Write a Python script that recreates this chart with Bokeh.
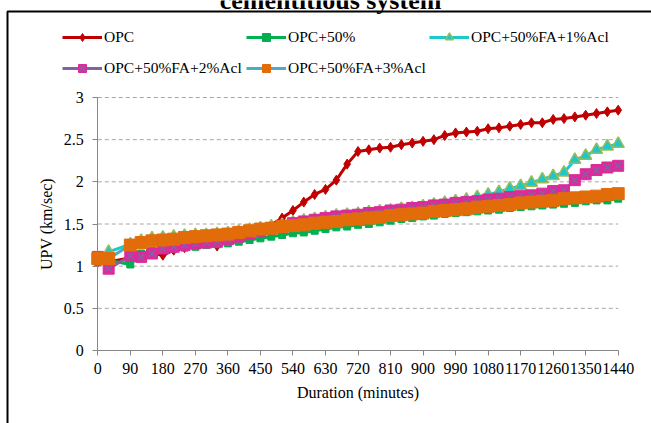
from bokeh.plotting import figure
from bokeh.models import Range1d, FixedTicker, Legend, LegendItem, BoxAnnotation, Label, LinearAxis
from bokeh.embed import file_html
from bokeh.resources import INLINE

# ---------------- data ----------------
minutes = [0, 30] + list(range(90, 1441, 30))

opc = [1.05, 1.05, 1.10, 1.12, 1.15, 1.13, 1.19, 1.22, 1.25, 1.27, 1.24, 1.32,
       1.36, 1.39, 1.43, 1.49, 1.57, 1.66, 1.76, 1.85, 1.91, 2.02, 2.21, 2.36,
       2.38, 2.40, 2.41, 2.44, 2.46, 2.48, 2.50, 2.55, 2.58, 2.59, 2.60, 2.63,
       2.64, 2.66, 2.68, 2.70, 2.70, 2.74, 2.75, 2.77, 2.79, 2.81, 2.83, 2.85]

opc50 = [1.05, 1.07, 1.02, 1.15, 1.18, 1.20, 1.21, 1.22, 1.23, 1.25, 1.26, 1.27,
         1.29, 1.31, 1.33, 1.35, 1.37, 1.39, 1.40, 1.42, 1.44, 1.46, 1.47, 1.49,
         1.50, 1.52, 1.54, 1.56, 1.57, 1.59, 1.60, 1.62, 1.63, 1.64, 1.65, 1.66,
         1.67, 1.69, 1.70, 1.71, 1.72, 1.73, 1.74, 1.75, 1.77, 1.78, 1.78, 1.80]

fa1 = [1.08, 1.17, 1.26, 1.30, 1.33, 1.34, 1.35, 1.36, 1.37, 1.37, 1.38, 1.39,
       1.41, 1.43, 1.45, 1.47, 1.49, 1.52, 1.54, 1.56, 1.58, 1.60, 1.61, 1.62,
       1.64, 1.65, 1.66, 1.68, 1.69, 1.71, 1.73, 1.75, 1.77, 1.79, 1.82, 1.85,
       1.88, 1.92, 1.95, 1.99, 2.03, 2.07, 2.11, 2.26, 2.31, 2.38, 2.42, 2.45]

fa2 = [1.11, 0.97, 1.12, 1.11, 1.15, 1.21, 1.23, 1.25, 1.27, 1.28, 1.29, 1.32,
       1.35, 1.38, 1.42, 1.45, 1.48, 1.51, 1.53, 1.55, 1.57, 1.59, 1.60, 1.61,
       1.63, 1.64, 1.66, 1.67, 1.69, 1.70, 1.72, 1.73, 1.75, 1.76, 1.77, 1.79,
       1.80, 1.82, 1.83, 1.84, 1.86, 1.89, 1.90, 2.02, 2.09, 2.14, 2.17, 2.19]

fa3 = [1.09, 1.09, 1.25, 1.28, 1.30, 1.31, 1.32, 1.34, 1.35, 1.36, 1.37, 1.38,
       1.40, 1.42, 1.44, 1.45, 1.47, 1.48, 1.49, 1.51, 1.52, 1.53, 1.55, 1.56,
       1.57, 1.58, 1.60, 1.61, 1.62, 1.63, 1.65, 1.66, 1.67, 1.68, 1.70, 1.71,
       1.72, 1.73, 1.75, 1.76, 1.77, 1.78, 1.80, 1.81, 1.82, 1.83, 1.85, 1.86]

series_labels = ["OPC", "OPC+50%", "OPC+50%FA+1%Acl", "OPC+50%FA+2%Acl", "OPC+50%FA+3%Acl"]
x_ticks = list(range(0, 1441, 90))
y_ticks = [0, 0.5, 1, 1.5, 2, 2.5, 3]
y_tick_labels = ["0", "0.5", "1", "1.5", "2", "2.5", "3"]
title_text = "cementitious system"
x_title = "Duration (minutes)"
y_title = "UPV (km/sec)"

FONT = "Liberation Serif"

W, H = 651, 423
# pixel geometry of the plotting area inside the canvas
X0PX, X1PX = 97.3, 617.7     # x = 0 and x = 1440
Y0PX, Y1PX = 350.0, 97.0     # y = 0 and y = 3
xs = (X1PX - X0PX) / (x_ticks[-1] - x_ticks[0])
ys = (Y0PX - Y1PX) / (y_ticks[-1] - y_ticks[0])
x_range = Range1d(x_ticks[0] - X0PX / xs, x_ticks[0] + (W - X0PX) / xs)
y_range = Range1d(y_ticks[0] - (H - Y0PX) / ys, y_ticks[0] + Y0PX / ys)

p = figure(width=W, height=H, output_backend="svg", toolbar_location=None,
           x_range=x_range, y_range=y_range,
           x_axis_location=None, y_axis_location=None,
           min_border=0, min_border_left=0, min_border_right=0,
           min_border_top=0, min_border_bottom=0,
           background_fill_color="white", border_fill_color="white")
p.outline_line_color = None
p.grid.visible = False

xaxis = LinearAxis(fixed_location=0, bounds=(x_ticks[0], x_ticks[-1]),
                   ticker=FixedTicker(ticks=x_ticks), axis_label=x_title)
yaxis = LinearAxis(fixed_location=0, bounds=(y_ticks[0], y_ticks[-1]),
                   ticker=FixedTicker(ticks=y_ticks), axis_label=y_title)
for ax in (xaxis, yaxis):
    ax.axis_line_color = "#868686"
    ax.major_tick_line_color = "#868686"
    ax.major_tick_out = 5
    ax.major_tick_in = 0
    ax.minor_tick_line_color = None
    ax.major_label_text_font = FONT
    ax.major_label_text_font_size = "16px"
    ax.major_label_text_color = "black"
    ax.axis_label_text_font = FONT
    ax.axis_label_text_font_size = "16px"
    ax.axis_label_text_font_style = "normal"
    ax.axis_label_text_color = "black"
xaxis.major_label_standoff = 7
xaxis.axis_label_standoff = 7
yaxis.major_label_overrides = {t: l for t, l in zip(y_ticks, y_tick_labels)}
yaxis.major_label_standoff = 9
yaxis.axis_label_standoff = 6
p.add_layout(xaxis, "below")
p.add_layout(yaxis, "left")

# dashed horizontal gridlines across the x extent of the axis
gy = y_ticks[1:]
p.segment(x0=[x_ticks[0]] * len(gy), x1=[x_ticks[-1]] * len(gy), y0=gy, y1=gy,
          line_color="#A6A6A6", line_dash="4 3", line_width=1)

# series
l1 = p.line(minutes, opc, line_color="#C00000", line_width=3)
s1 = p.scatter(minutes, opc, marker="diamond", size=10, fill_color="#C00000", line_color="#C00000")
l2 = p.line(minutes, opc50, line_color="#00B050", line_width=3)
s2 = p.scatter(minutes, opc50, marker="square", size=7, fill_color="#00B050", line_color="#00B050")
l3 = p.line(minutes, fa1, line_color="#1CC8C8", line_width=3)
s3 = p.scatter(minutes, fa1, marker="triangle", size=12, fill_color="#1CC8C8", line_color="#9BBB59", line_width=1.5)
l4 = p.line(minutes, fa2, line_color="#8064A2", line_width=3)
s4 = p.scatter(minutes, fa2, marker="square", size=11, fill_color="#DC2A9C", line_color="#DC2A9C")
s4x = p.scatter(minutes, fa2, marker="x", size=9, line_color="#8064A2", line_width=1.5)
l5 = p.line(minutes, fa3, line_color="#4BACC6", line_width=3)
s5 = p.scatter(minutes, fa3, marker="square", size=12, fill_color="#E36C0A", line_color="#E36C0A")

# legend items placed individually (location = bottom-left, px from frame bottom-left)
legend_defs = [
    (series_labels[0], [l1, s1], 62, H - 47),
    (series_labels[1], [l2, s2], 246, H - 47),
    (series_labels[2], [l3, s3], 429, H - 47),
    (series_labels[3], [l4, s4, s4x], 62, H - 78),
    (series_labels[4], [l5, s5], 246, H - 78),
]
for lab, rends, vx, vy in legend_defs:
    lg = Legend(items=[LegendItem(label=lab, renderers=rends)], location=(vx, vy),
                orientation="horizontal", padding=0, margin=0, spacing=0,
                glyph_width=40, glyph_height=20, label_height=20, label_standoff=2,
                label_text_font=FONT, label_text_font_size="15.5px",
                label_text_color="black",
                background_fill_alpha=0, border_line_alpha=0)
    p.add_layout(lg, "center")

border = BoxAnnotation(left=7, right=760, top=11, bottom=600,
                       left_units="canvas", right_units="canvas",
                       top_units="canvas", bottom_units="canvas",
                       fill_alpha=0, line_color="black", line_alpha=1.0,
                       line_width=2, level="overlay")
p.add_layout(border)

title = Label(x=330, y=0, x_units="canvas", y_units="canvas", text=title_text,
              text_align="center", text_baseline="alphabetic", text_font=FONT,
              text_font_style="bold", text_font_size="26px", text_color="black")
p.add_layout(title)

open("out.html", "w").write(file_html(p, INLINE))
